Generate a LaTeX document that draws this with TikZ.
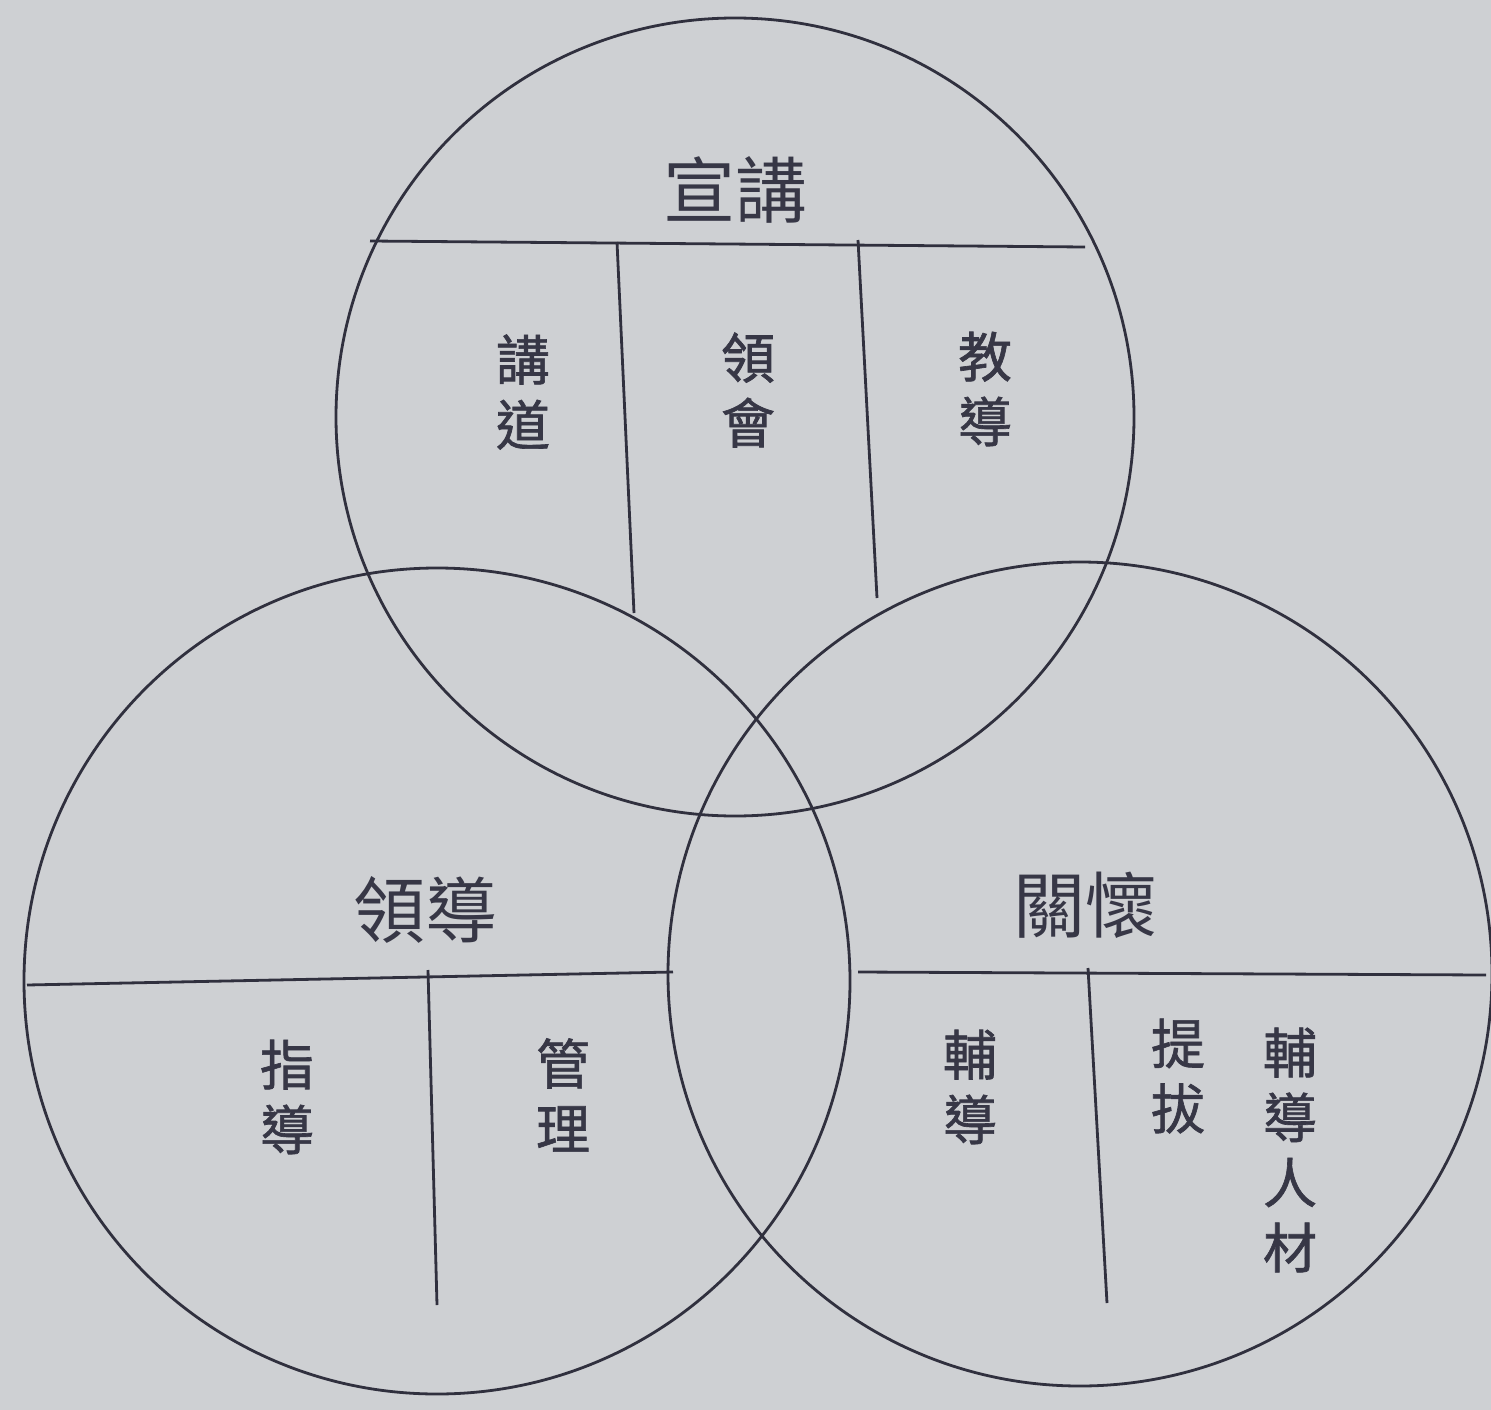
\documentclass[tikz,border=0pt]{standalone}
\usepackage{fontspec}
\newfontfamily\cjk{Noto Sans CJK TC}
\newfontfamily\cjkb[FakeBold=1.2]{Noto Sans CJK TC}
\definecolor{bg}{RGB}{206,208,211}
\definecolor{ink}{RGB}{48,48,62}
\definecolor{txt}{RGB}{55,55,70}
\begin{document}
\begin{tikzpicture}[x=1pt,y=-1pt,
  ring/.style={draw=ink,line width=2.8pt},
  rule/.style={draw=ink,line width=2.8pt},
  title/.style={text=txt,font=\cjk\fontsize{72}{72}\selectfont,inner sep=0pt},
  word/.style={text=txt,font=\cjkb\fontsize{54}{65}\selectfont,inner sep=0pt,align=center}]
\fill[bg] (0,0) rectangle (1491,1410);
\useasboundingbox (0,0) rectangle (1491,1410);
% circles
\draw[ring] (735,417) circle (399);
\draw[ring] (437,981) circle (413);
\draw[ring] (1080,974) circle (412);
% top circle
\coordinate (t1) at (370,241);
\coordinate (t2) at (1085,247);
\coordinate (ta) at (617,242);
\coordinate (tb) at (634,613);
\coordinate (tc) at (858,240);
\coordinate (td) at (877,598);
\draw[rule] (t1) -- (t2);
\draw[rule] (ta) -- (tb);
\draw[rule] (tc) -- (td);
% bottom-left
\coordinate (l1) at (27,985);
\coordinate (l2) at (673,972);
\coordinate (la) at (428,970);
\coordinate (lb) at (437,1305);
\draw[rule] (l1) -- (l2);
\draw[rule] (la) -- (lb);
% bottom-right
\coordinate (r1) at (858,972);
\coordinate (r2) at (1486,975);
\coordinate (ra) at (1088,968);
\coordinate (rb) at (1107,1303);
\draw[rule] (r1) -- (r2);
\draw[rule] (ra) -- (rb);
% titles
\node[title] (xj) at (735,190) {宣講};
\node[title] (ld) at (425,910) {領導};
\node[title] (gh) at (1085,905) {關懷};
% words
\node[word] (w1) at (523,392) {講\\道};
\node[word] (w2) at (748,390) {領\\會};
\node[word] (w3) at (985,389) {教\\導};
\node[word] (w4) at (287,1097) {指\\導};
\node[word] (w5) at (563,1095) {管\\理};
\node[word] (w6) at (970,1087) {輔\\導};
\node[word] (w7) at (1178,1076) {提\\拔};
\node[word] (w8) at (1290,1150) {輔\\導\\人\\材};
\end{tikzpicture}
\end{document}
